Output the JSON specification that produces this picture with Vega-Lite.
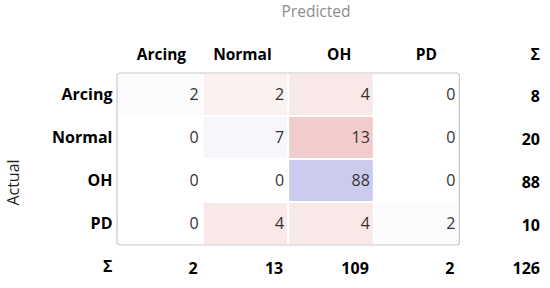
{
  "$schema": "https://vega.github.io/schema/vega-lite/v6.json",
  "width": 428,
  "height": 258,
  "autosize": {"type": "none"},
  "padding": {"left": 117, "top": 30, "right": 5, "bottom": 0},
  "background": "white",
  "config": {"view": {"stroke": null}, "font": "Open Sans",
    "axisY": {"titleFontWeight": "normal", "titleFontSize": 16, "titleColor": "#222222", "labelFontWeight": "bold", "labelFontSize": 16, "labelColor": "black", "labelPadding": 5, "ticks": false, "domain": false, "grid": false}},
  "title": {"text": "Predicted", "color": "#8c8c8c", "fontSize": 15.5, "fontWeight": "normal", "anchor": "middle", "dx": -15, "offset": 10, "font": "Open Sans"},
  "datasets": {
    "cells": [
      {"actual": "Arcing", "predicted": "Arcing", "n": 2},
      {"actual": "Arcing", "predicted": "Normal", "n": 2},
      {"actual": "Arcing", "predicted": "OH", "n": 4},
      {"actual": "Arcing", "predicted": "PD", "n": 0},
      {"actual": "Arcing", "predicted": "Σ", "n": 8},
      {"actual": "Normal", "predicted": "Arcing", "n": 0},
      {"actual": "Normal", "predicted": "Normal", "n": 7},
      {"actual": "Normal", "predicted": "OH", "n": 13},
      {"actual": "Normal", "predicted": "PD", "n": 0},
      {"actual": "Normal", "predicted": "Σ", "n": 20},
      {"actual": "OH", "predicted": "Arcing", "n": 0},
      {"actual": "OH", "predicted": "Normal", "n": 0},
      {"actual": "OH", "predicted": "OH", "n": 88},
      {"actual": "OH", "predicted": "PD", "n": 0},
      {"actual": "OH", "predicted": "Σ", "n": 88},
      {"actual": "PD", "predicted": "Arcing", "n": 0},
      {"actual": "PD", "predicted": "Normal", "n": 4},
      {"actual": "PD", "predicted": "OH", "n": 4},
      {"actual": "PD", "predicted": "PD", "n": 2},
      {"actual": "PD", "predicted": "Σ", "n": 10},
      {"actual": "Σ", "predicted": "Arcing", "n": 2},
      {"actual": "Σ", "predicted": "Normal", "n": 13},
      {"actual": "Σ", "predicted": "OH", "n": 109},
      {"actual": "Σ", "predicted": "PD", "n": 2},
      {"actual": "Σ", "predicted": "Σ", "n": 126}
    ],
    "heads": [
      {"predicted": "Arcing"},
      {"predicted": "Normal"},
      {"predicted": "OH"},
      {"predicted": "PD"},
      {"predicted": "Σ"}
    ]
  },
  "layer": [
    {
      "data": {"name": "cells"},
      "transform": [{"filter": "datum.actual != 'Σ' && datum.predicted != 'Σ'"}],
      "mark": {"type": "text", "align": "right", "baseline": "middle", "dx": -4, "fontSize": 15.5, "color": "#333333", "opacity": 0},
      "encoding": {
        "x": {"field": "predicted", "type": "nominal", "bandPosition": 1, "scale": {"domain": ["Arcing", "Normal", "OH", "PD", "Σ"], "paddingInner": 0, "paddingOuter": 0}, "axis": null},
        "y": {"field": "actual", "type": "nominal", "scale": {"domain": ["hdr", "Arcing", "Normal", "OH", "PD", "Σ"], "paddingInner": 0, "paddingOuter": 0},
          "axis": {"title": "Actual", "titleX": -98.5, "titleY": 152, "titleBaseline": "alphabetic", "titleAngle": -90, "labelExpr": "datum.value == 'hdr' ? '' : datum.value"}},
        "text": {"field": "n", "type": "quantitative"}
      }
    },
    {
      "data": {"name": "cells"},
      "transform": [{"filter": "datum.actual == datum.predicted && datum.actual != 'Σ'"}],
      "mark": {"type": "rect", "stroke": "white", "strokeWidth": 2},
      "encoding": {
        "x": {"field": "predicted", "type": "nominal"},
        "y": {"field": "actual", "type": "nominal"},
        "color": {"field": "n", "type": "quantitative", "scale": {"type": "pow", "exponent": 0.7, "domain": [0, 88], "range": ["#ffffff", "#cbcbf0"], "interpolate": "rgb"}, "legend": null}
      }
    },
    {
      "data": {"name": "cells"},
      "transform": [{"filter": "datum.actual != datum.predicted && datum.actual != 'Σ' && datum.predicted != 'Σ' && datum.n > 0"}],
      "mark": {"type": "rect", "stroke": "white", "strokeWidth": 2},
      "encoding": {
        "x": {"field": "predicted", "type": "nominal"},
        "y": {"field": "actual", "type": "nominal"},
        "color": {"field": "n", "type": "quantitative", "scale": {"type": "pow", "exponent": 0.7, "domain": [0, 13], "range": ["#ffffff", "#f2cbcb"], "interpolate": "rgb"}, "legend": null}
      }
    },
    {
      "data": {"values": [{}]},
      "mark": {"type": "rect", "fill": null, "fillOpacity": 0, "stroke": "#c8c8c8", "strokeWidth": 1.2, "cornerRadius": 3},
      "encoding": {
        "x": {"datum": "Arcing", "type": "nominal", "bandPosition": 0},
        "x2": {"datum": "Σ", "bandPosition": 0},
        "y": {"datum": "Arcing", "type": "nominal", "bandPosition": 0},
        "y2": {"datum": "Σ", "bandPosition": 0}
      }
    },
    {
      "data": {"name": "cells"},
      "transform": [{"filter": "datum.actual != 'Σ' && datum.predicted != 'Σ'"}],
      "mark": {"type": "text", "align": "right", "baseline": "middle", "dx": -4, "fontSize": 16, "color": "#333333"},
      "encoding": {
        "x": {"field": "predicted", "type": "nominal", "bandPosition": 1},
        "y": {"field": "actual", "type": "nominal"},
        "text": {"field": "n", "type": "quantitative"}
      }
    },
    {
      "data": {"name": "cells"},
      "transform": [{"filter": "datum.actual == 'Σ' || datum.predicted == 'Σ'"}],
      "mark": {"type": "text", "align": "right", "baseline": "middle", "dx": -5, "dy": 2, "fontSize": 16, "fontWeight": "bold", "color": "black"},
      "encoding": {
        "x": {"field": "predicted", "type": "nominal", "bandPosition": 1},
        "y": {"field": "actual", "type": "nominal"},
        "text": {"field": "n", "type": "quantitative"}
      }
    },
    {
      "data": {"name": "heads"},
      "transform": [{"filter": "datum.predicted == 'Arcing' || datum.predicted == 'Normal'"}],
      "mark": {"type": "text", "align": "right", "baseline": "middle", "dx": -16.5, "dy": 3, "fontSize": 15.5, "fontWeight": "bold", "color": "black"},
      "encoding": {
        "x": {"field": "predicted", "type": "nominal", "bandPosition": 1},
        "y": {"datum": "hdr", "type": "nominal"},
        "text": {"field": "predicted", "type": "nominal"}
      }
    },
    {
      "data": {"name": "heads"},
      "transform": [{"filter": "datum.predicted == 'OH' || datum.predicted == 'PD'"}],
      "mark": {"type": "text", "align": "right", "baseline": "middle", "dx": -22.5, "dy": 3, "fontSize": 15.5, "fontWeight": "bold", "color": "black"},
      "encoding": {
        "x": {"field": "predicted", "type": "nominal", "bandPosition": 1},
        "y": {"datum": "hdr", "type": "nominal"},
        "text": {"field": "predicted", "type": "nominal"}
      }
    },
    {
      "data": {"name": "heads"},
      "transform": [{"filter": "datum.predicted == 'Σ'"}],
      "mark": {"type": "text", "align": "right", "baseline": "middle", "dx": -5, "dy": 3, "fontSize": 16, "fontWeight": "bold", "color": "black"},
      "encoding": {
        "x": {"field": "predicted", "type": "nominal", "bandPosition": 1},
        "y": {"datum": "hdr", "type": "nominal"},
        "text": {"field": "predicted", "type": "nominal"}
      }
    }
  ],
  "resolve": {"scale": {"color": "independent"}, "axis": {"x": "shared", "y": "shared"}},
  "encoding": {}
}
